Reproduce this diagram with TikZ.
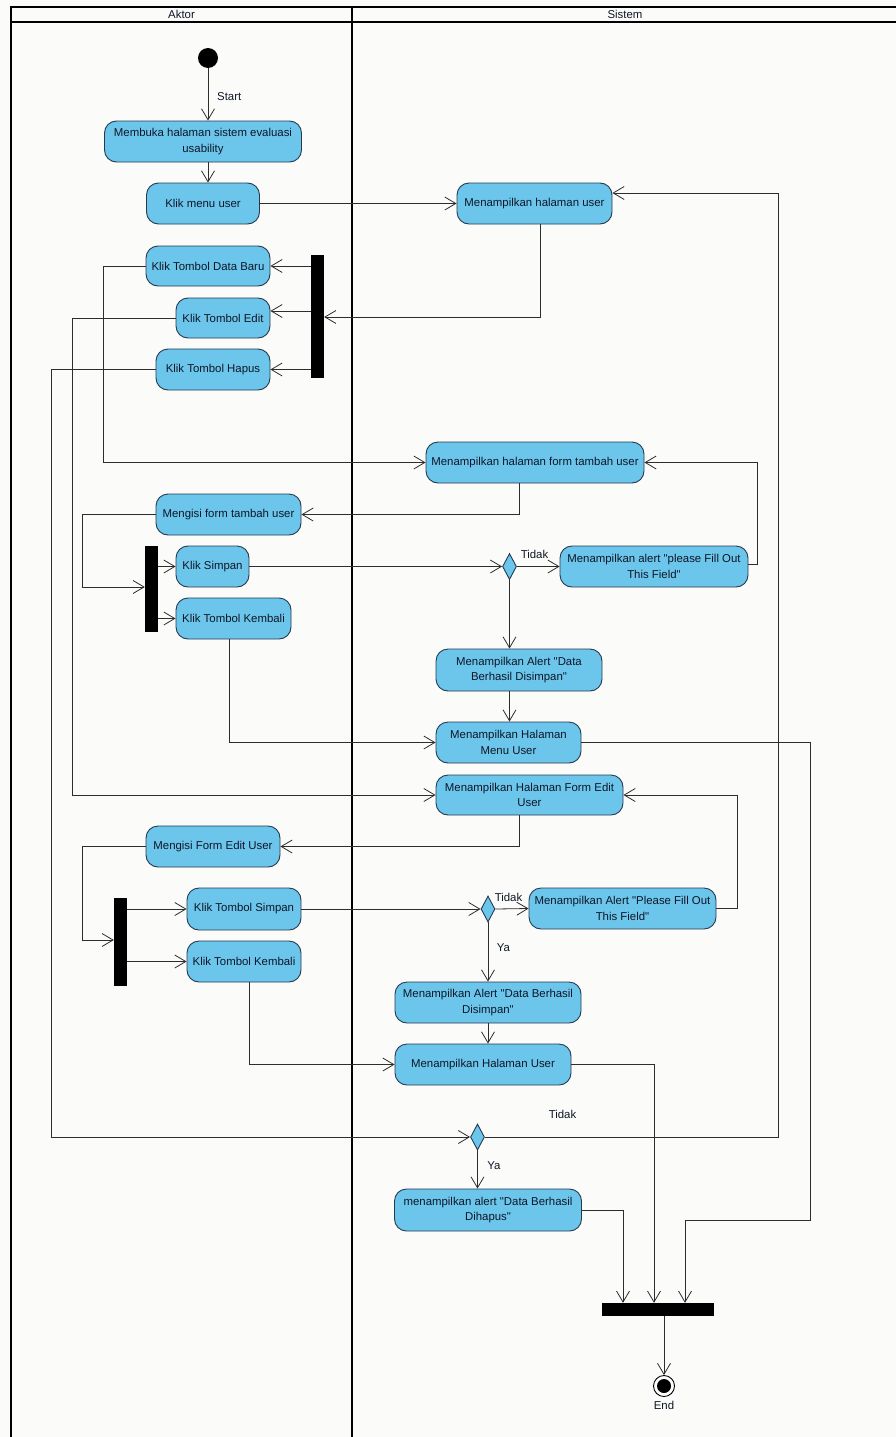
\documentclass[tikz,border=0pt]{standalone}
\usepackage{fontspec}
\setmainfont{Liberation Sans}[Ligatures=TeXOff]
\usetikzlibrary{arrows.meta,shapes.geometric}
\definecolor{actfill}{RGB}{108,198,236}
\definecolor{actline}{RGB}{38,58,78}
\definecolor{wire}{RGB}{45,45,45}
\definecolor{inktext}{RGB}{14,22,38}
\definecolor{paper}{RGB}{251,251,249}
\begin{document}
\begin{tikzpicture}[x=1pt,y=-1pt,
  act/.style={draw=actline, fill=actfill, line width=0.9pt, rounded corners=12pt,
    align=center, inner sep=0pt, font=\fontsize{11.4}{15.5}\selectfont, text=inktext},
  decision/.style={diamond, draw=actline, fill=actfill, line width=0.9pt,
    inner sep=0pt, minimum width=14pt, minimum height=26pt},
  syncbar/.style={fill=black, draw=none, inner sep=0pt},
  flow/.style={draw=wire, line width=0.8pt,
    -{Straight Barb[length=11pt,width=13pt,line width=0.8pt]}},
  lbl/.style={font=\fontsize{11.4}{13}\selectfont, text=inktext, inner sep=0pt},
  lane/.style={draw=black, line width=1.5pt}]

% canvas
\useasboundingbox (0,0) rectangle (896,1437);
\fill[paper] (0,0) rectangle (896,1437);

% swimlanes
\draw[lane] (11,7) rectangle (900,1440);
\draw[lane] (11,22) -- (900,22);
\draw[lane] (352,7) -- (352,1440);
\node[lbl] (aktorHead) at (181.5,14.5) {Aktor};
\node[lbl] (sistemHead) at (625,14.5) {Sistem};

% initial and final nodes
\node[circle, fill=black, minimum size=20pt, inner sep=0pt] (start) at (208,58) {};
\node[lbl, anchor=west] (startLbl) at (217,97) {Start};
\node[circle, draw=black, fill=white, line width=0.9pt, minimum size=21pt, inner sep=0pt] (end) at (664,1386) {};
\fill[black] (end.center) circle (7);
\node[lbl] (endLbl) at (664,1405) {End};

% actor actions
\node[act, minimum width=197pt, minimum height=41pt] (membuka) at (203,141.5) {Membuka halaman sistem evaluasi\\usability};
\node[act, minimum width=113pt, minimum height=41pt] (menu) at (203,203.5) {Klik menu user};
\node[act, minimum width=124pt, minimum height=40pt] (baru) at (208,266) {Klik Tombol Data Baru};
\node[act, minimum width=94pt, minimum height=40pt] (edit) at (223,318) {Klik Tombol Edit};
\node[act, minimum width=114pt, minimum height=41pt] (hapus) at (213,369.5) {Klik Tombol Hapus};
\node[act, minimum width=145pt, minimum height=41pt] (isiTambah) at (228.5,514.5) {Mengisi form tambah user};
\node[act, minimum width=73pt, minimum height=41pt] (simpan1) at (212.5,566.5) {Klik Simpan};
\node[act, minimum width=115pt, minimum height=41pt] (kembali1) at (233.5,618.5) {Klik Tombol Kembali};
\node[act, minimum width=134pt, minimum height=41pt] (isiEdit) at (213,846.5) {Mengisi Form Edit User};
\node[act, minimum width=114pt, minimum height=42pt] (simpan2) at (244,909) {Klik Tombol Simpan};
\node[act, minimum width=114pt, minimum height=41pt] (kembali2) at (244,961.5) {Klik Tombol Kembali};

% fork / join bars
\node[syncbar, minimum width=13pt, minimum height=123pt] (bar1) at (317.5,316.5) {};
\node[syncbar, minimum width=13pt, minimum height=86pt] (bar2) at (151.5,589) {};
\node[syncbar, minimum width=13pt, minimum height=88pt] (bar3) at (120.5,942) {};
\node[syncbar, minimum width=112pt, minimum height=13pt] (bar4) at (658,1309.5) {};

% system actions
\node[act, minimum width=155pt, minimum height=41pt] (halUser) at (534.5,203.5) {Menampilkan halaman user};
\node[act, minimum width=218pt, minimum height=41pt] (formTambah) at (535,462.5) {Menampilkan halaman form tambah user};
\node[act, minimum width=188pt, minimum height=41pt] (alert1) at (654,566.5) {Menampilkan alert "please Fill Out\\This Field"};
\node[act, minimum width=166pt, minimum height=42pt] (saved1) at (519,670) {Menampilkan Alert "Data\\Berhasil Disimpan"};
\node[act, minimum width=145pt, minimum height=41pt] (menuUser) at (508.5,742.5) {Menampilkan Halaman\\Menu User};
\node[act, minimum width=187pt, minimum height=40pt] (formEdit) at (529.5,795) {Menampilkan Halaman Form Edit\\User};
\node[act, minimum width=187pt, minimum height=41pt] (alert2) at (622.5,908.5) {Menampilkan Alert "Please Fill Out\\This Field"};
\node[act, minimum width=186pt, minimum height=41pt] (saved2) at (488,1002.5) {Menampilkan Alert "Data Berhasil\\Disimpan"};
\node[act, minimum width=176pt, minimum height=41pt] (halUser2) at (483,1064.5) {Menampilkan Halaman User};
\node[act, minimum width=187pt, minimum height=42pt] (hapusAlert) at (488,1210) {menampilkan alert "Data Berhasil\\Dihapus"};

% decisions
\node[decision] (dec1) at (509.5,566.5) {};
\node[decision] (dec2) at (488,909) {};
\node[decision] (dec3) at (477.5,1137) {};

% guard labels
\node[lbl] (tidak1) at (534.5,554) {Tidak};
\node[lbl] (tidak2) at (508.5,897) {Tidak};
\node[lbl] (ya2) at (503.5,948) {Ya};
\node[lbl] (tidak3) at (562.5,1114) {Tidak};
\node[lbl] (ya3) at (494,1166) {Ya};

% flows
\draw[flow] (start) -- (start |- membuka.north);
\draw[flow] (membuka.south -| start) -- (menu.north -| start);
\draw[flow] (menu) -- (halUser);
\draw[flow] ([xshift=6pt]halUser.south) |- (bar1.east |- 0,317);
\draw[flow] (bar1.west |- baru) -- (baru.east);
\draw[flow] (bar1.west |- 0,311) -- (edit.east |- 0,311);
\draw[flow] (bar1.west |- hapus) -- (hapus.east);

\draw[flow] (baru.west) -- ++(-42,0) |- (formTambah.west);
\draw[flow] (edit.west) -- ++(-103,0) |- (formEdit.west);
\draw[flow] (hapus.west) -- ++(-104,0) |- (dec3.west);

\draw[flow] ([xshift=-15.4pt]formTambah.south) |- (isiTambah.east);
\draw[flow] (isiTambah.west) -- ++(-73,0) |- (bar2.west |- 0,587);
\draw[flow] (bar2.east |- simpan1) -- (simpan1.west);
\draw[flow] (bar2.east |- kembali1) -- (kembali1.west);
\draw[flow] (simpan1.east) -- (dec1.west);
\draw[flow] (dec1.east) -- (alert1.west);
\draw[flow] (alert1.east |- 0,564) -- ++(9,0) |- (formTambah.east);
\draw[flow] (dec1.south) -- (dec1.south |- saved1.north);
\draw[flow] (saved1.south -| dec1) -- (menuUser.north -| dec1);
\draw[flow] ([xshift=-4.5pt]kembali1.south) |- (menuUser.west);
\draw[flow] (menuUser.east) -| (810,1220) -| ([xshift=27pt]bar4.north);

\draw[flow] ([xshift=-10pt]formEdit.south) |- (isiEdit.east);
\draw[flow] (isiEdit.west) -- ++(-63,0) |- (bar3.west |- 0,940);
\draw[flow] (bar3.east |- simpan2) -- (simpan2.west);
\draw[flow] (bar3.east |- kembali2) -- (kembali2.west);
\draw[flow] (simpan2.east) -- (dec2.west);
\draw[flow] (dec2.east) -- (alert2.west);
\draw[flow] (alert2.east) -- ++(21,0) |- (formEdit.east);
\draw[flow] (dec2.south) -- (dec2.south |- saved2.north);
\draw[flow] (saved2.south -| dec2) -- (halUser2.north -| dec2);
\draw[flow] ([xshift=5pt]kembali2.south) |- (halUser2.west);
\draw[flow] (halUser2.east) -| ([xshift=-4pt]bar4.north);

\draw[flow] (dec3.east) -| (778,193) -- (halUser.east |- 0,193);
\draw[flow] (dec3.south) -- (dec3.south |- hapusAlert.north);
\draw[flow] (hapusAlert.east) -| ([xshift=-35pt]bar4.north);
\draw[flow] (bar4.south -| end) -- (end.north);
\end{tikzpicture}
\end{document}
